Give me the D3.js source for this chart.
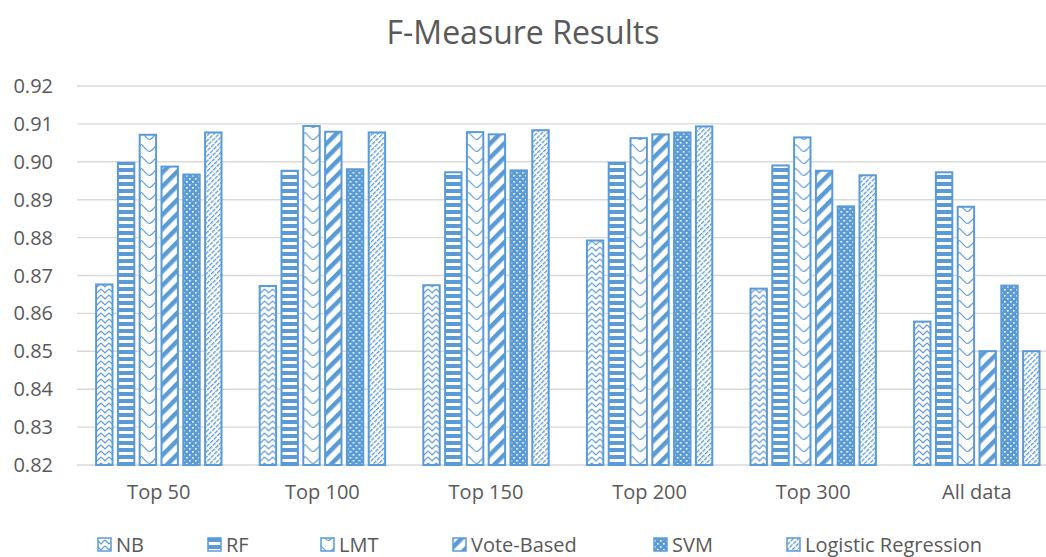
<!DOCTYPE html>
<html>
<head>
<meta charset="utf-8">
<script src="https://cdn.jsdelivr.net/npm/d3@7"></script>
<style>
  html, body { margin: 0; padding: 0; background: #fff; }
  svg { display: block; }
  text { font-family: "Open Sans", "Noto Sans", sans-serif; fill: #595959; }
</style>
</head>
<body>
<svg id="chart" width="1046" height="557"></svg>
<script>
// F-measure scores per feature subset and classifier
const categories = ["Top 50", "Top 100", "Top 150", "Top 200", "Top 300", "All data"];
const seriesNames = ["NB", "RF", "LMT", "Vote-Based", "SVM", "Logistic Regression"];
const nbValues   = [0.8679, 0.8675, 0.8677, 0.8795, 0.8668, 0.8581];
const rfValues   = [0.9000, 0.8979, 0.8975, 0.9000, 0.8993, 0.8975];
const lmtValues  = [0.9074, 0.9097, 0.9081, 0.9065, 0.9067, 0.8884];
const voteValues = [0.8990, 0.9082, 0.9075, 0.9075, 0.8979, 0.8503];
const svmValues  = [0.8969, 0.8983, 0.8980, 0.9080, 0.8885, 0.8676];
const lrValues   = [0.9080, 0.9080, 0.9086, 0.9096, 0.8967, 0.8503];
const yTicks = [0.82, 0.83, 0.84, 0.85, 0.86, 0.87, 0.88, 0.89, 0.90, 0.91, 0.92];

const seriesValues = [nbValues, rfValues, lmtValues, voteValues, svmValues, lrValues];
const blue = "#5b9bd5";

const svg = d3.select("#chart");
const W = 1046, H = 557;

const plot = { left: 77, top: 86, bottom: 465, band: 163.6 };
const x0 = d3.scaleBand()
  .domain(categories)
  .range([plot.left, plot.left + plot.band * categories.length]);
const groupPad = 18.1;
const x1 = d3.scaleBand()
  .domain(seriesNames)
  .range([groupPad, x0.bandwidth() - groupPad])
  .paddingInner(0.156);
const y = d3.scaleLinear().domain([0.82, 0.92]).range([plot.bottom, plot.top]);

// ---- fill patterns ----
const defs = svg.append("defs");
const pid = i => "pat" + i;

// NB: zigzag
(function () {
  const p = defs.append("pattern").attr("id", pid(0)).attr("patternUnits", "userSpaceOnUse")
    .attr("width", 8).attr("height", 6);
  p.append("rect").attr("width", 8).attr("height", 6).attr("fill", "#fff");
  p.append("path").attr("d", "M0,1 L4,5 L8,1").attr("fill", "none")
    .attr("stroke", blue).attr("stroke-width", 1.2);
})();
// RF: wide horizontal stripes
(function () {
  const p = defs.append("pattern").attr("id", pid(1)).attr("patternUnits", "userSpaceOnUse")
    .attr("width", 8).attr("height", 7);
  p.append("rect").attr("width", 8).attr("height", 7).attr("fill", "#fff");
  p.append("rect").attr("y", 0).attr("width", 8).attr("height", 4).attr("fill", blue);
})();
// LMT: wave
(function () {
  const p = defs.append("pattern").attr("id", pid(2)).attr("patternUnits", "userSpaceOnUse")
    .attr("width", 16).attr("height", 12);
  p.append("rect").attr("width", 16).attr("height", 12).attr("fill", "#fff");
  p.append("path").attr("d", "M0,0 L6,6 Q8,9 11,6 L16,1")
    .attr("fill", "none").attr("stroke", blue).attr("stroke-width", 1.1);
  p.append("path").attr("d", "M8,0 Q10,-3 12,0")
    .attr("fill", "none").attr("stroke", blue).attr("stroke-width", 1.1);
})();
// Vote-Based: wide upward diagonal
(function () {
  const p = defs.append("pattern").attr("id", pid(3)).attr("patternUnits", "userSpaceOnUse")
    .attr("width", 10).attr("height", 10).attr("patternTransform", "rotate(45)");
  p.append("rect").attr("width", 10).attr("height", 10).attr("fill", "#fff");
  p.append("rect").attr("width", 4.5).attr("height", 10).attr("fill", blue);
})();
// SVM: solid with white dots
(function () {
  const p = defs.append("pattern").attr("id", pid(4)).attr("patternUnits", "userSpaceOnUse")
    .attr("width", 6).attr("height", 6);
  p.append("rect").attr("width", 6).attr("height", 6).attr("fill", blue);
  p.append("rect").attr("x", 1).attr("y", 1).attr("width", 1.6).attr("height", 1.6).attr("fill", "#fff");
  p.append("rect").attr("x", 4).attr("y", 4).attr("width", 1.6).attr("height", 1.6).attr("fill", "#fff");
})();
// Logistic Regression: dashed light upward diagonal
(function () {
  const p = defs.append("pattern").attr("id", pid(5)).attr("patternUnits", "userSpaceOnUse")
    .attr("width", 3.6).attr("height", 5).attr("patternTransform", "rotate(45)");
  p.append("rect").attr("width", 3.6).attr("height", 5).attr("fill", "#fff");
  p.append("rect").attr("width", 1.3).attr("height", 4).attr("fill", blue);
})();

// ---- gridlines ----
svg.append("g")
  .selectAll("line")
  .data(yTicks)
  .join("line")
  .attr("x1", plot.left).attr("x2", W)
  .attr("y1", d => y(d)).attr("y2", d => y(d))
  .attr("stroke", "#d9d9d9").attr("stroke-width", 1.4);

// ---- y tick labels ----
svg.append("g")
  .selectAll("text")
  .data(yTicks)
  .join("text")
  .attr("x", 53).attr("y", d => y(d))
  .attr("dy", "0.35em")
  .attr("text-anchor", "end")
  .attr("font-size", 20)
  .text(d => d.toFixed(2));

// ---- bars ----
const groups = svg.append("g")
  .selectAll("g")
  .data(categories)
  .join("g")
  .attr("transform", d => `translate(${x0(d)},0)`);

groups.selectAll("rect")
  .data((c, ci) => seriesNames.map((s, si) => ({ s, si, v: seriesValues[si][ci] })))
  .join("rect")
  .attr("x", d => x1(d.s) + 1)
  .attr("width", x1.bandwidth() - 2)
  .attr("y", d => y(d.v) + 1)
  .attr("height", d => y(0.82) - y(d.v) - 1)
  .attr("fill", d => `url(#${pid(d.si)})`)
  .attr("stroke", blue)
  .attr("stroke-width", 2);

// ---- category labels ----
svg.append("g")
  .selectAll("text")
  .data(categories)
  .join("text")
  .attr("x", d => x0(d) + x0.bandwidth() / 2)
  .attr("y", 499)
  .attr("text-anchor", "middle")
  .attr("font-size", 20)
  .text(d => d);

// ---- title ----
svg.append("text")
  .attr("x", W / 2).attr("y", 44)
  .attr("text-anchor", "middle")
  .attr("font-size", 32)
  .text("F-Measure Results");

// ---- legend ----
const legendX = [97, 207, 320, 452, 653, 786];
const legend = svg.append("g")
  .selectAll("g")
  .data(seriesNames)
  .join("g")
  .attr("transform", (d, i) => `translate(${legendX[i]},545)`);
legend.append("rect")
  .attr("x", 1).attr("y", -7).attr("width", 13).attr("height", 13)
  .attr("fill", (d, i) => `url(#${pid(i)})`)
  .attr("stroke", blue).attr("stroke-width", 1.5);
legend.append("text")
  .attr("x", 19).attr("y", 0).attr("dy", "0.35em")
  .attr("font-size", 20)
  .text(d => d);
</script>
</body>
</html>
